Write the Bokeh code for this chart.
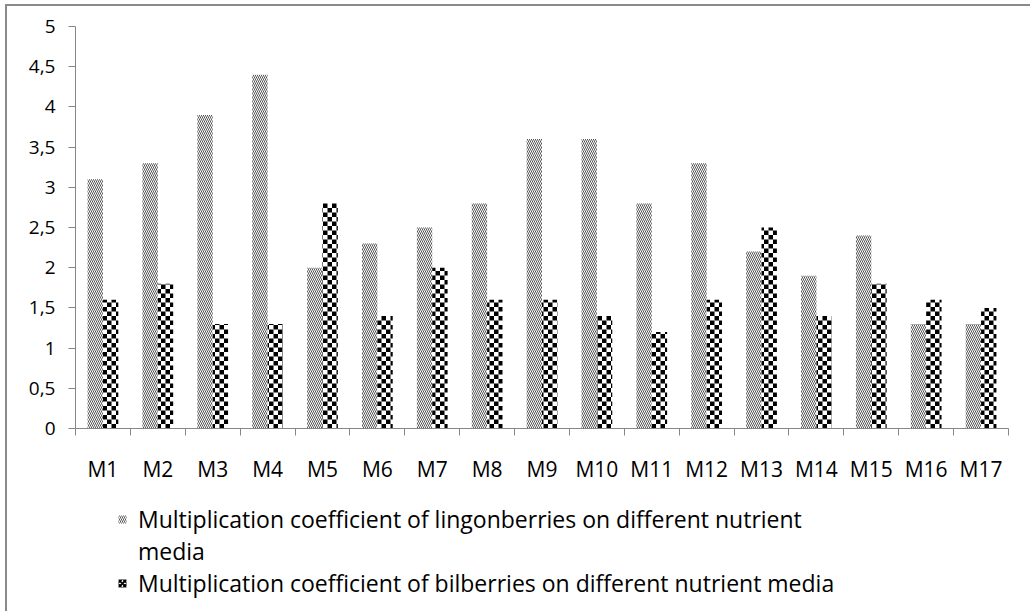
import math

from bokeh.plotting import figure
from bokeh.layouts import column
from bokeh.models import (ColumnDataSource, FixedTicker, CustomJSTickFormatter,
                          Legend, LegendItem)
from bokeh.transform import dodge
from bokeh.embed import file_html
from bokeh.resources import INLINE

# ---------------- data ----------------
categories = ["M1", "M2", "M3", "M4", "M5", "M6", "M7", "M8", "M9", "M10",
              "M11", "M12", "M13", "M14", "M15", "M16", "M17"]
lingonberries = [3.1, 3.3, 3.9, 4.4, 2.0, 2.3, 2.5, 2.8, 3.6, 3.6,
                 2.8, 3.3, 2.2, 1.9, 2.4, 1.3, 1.3]
bilberries = [1.6, 1.8, 1.3, 1.3, 2.8, 1.4, 2.0, 1.6, 1.6, 1.4,
              1.2, 1.6, 2.5, 1.4, 1.8, 1.6, 1.5]
y_ticks = [0, 0.5, 1, 1.5, 2, 2.5, 3, 3.5, 4, 4.5, 5]
legend_ling = ["Multiplication coefficient of lingonberries on different nutrient", "media"]
legend_bil = "Multiplication coefficient of bilberries on different nutrient media"

FONT = "Open Sans"
AXIS_GREY = "#868686"
LING_HATCH = dict(fill_color="white", line_color=None,
                  hatch_pattern="left_diagonal_line", hatch_color="#555555",
                  hatch_scale=4, hatch_weight=1)

# ---------------- geometry ----------------
FIG_W = 1023
FRAME_W, FRAME_H = 933, 402
X0, X1 = 0.5, len(categories) + 0.5
Y0, Y1 = 0, 5
bw = 0.28

idx = list(range(1, len(categories) + 1))
source = ColumnDataSource(data=dict(x=idx, ling=lingonberries, bil=bilberries))

# ---------------- chart ----------------
p = figure(width=FIG_W, height=479, x_range=(X0, X1), y_range=(Y0, Y1),
           output_backend="svg", toolbar_location=None,
           min_border_left=68, min_border_right=FIG_W - 68 - FRAME_W,
           min_border_top=20, min_border_bottom=57)
p.outline_line_color = None
p.xgrid.visible = False
p.ygrid.visible = False

# lingonberries: diagonal hatch
p.vbar(x=dodge("x", -bw / 2), top="ling", width=bw, source=source, **LING_HATCH)

# bilberries: white bar + checkerboard cells derived from each bar's value
p.vbar(x=dodge("x", bw / 2), top="bil", width=bw, source=source,
       fill_color="white", line_color=None)
cell_px = 4.5
cdx = cell_px * (X1 - X0) / FRAME_W
cdy = cell_px * (Y1 - Y0) / FRAME_H
cl, cr, cb, ct = [], [], [], []
for xi, v in zip(idx, bilberries):
    bx0, bx1 = xi, xi + bw
    k0 = math.floor((bx0 - X0) / cdx)
    k1 = math.ceil((bx1 - X0) / cdx)
    for j in range(math.ceil(v / cdy)):
        for k in range(k0, k1):
            if (j + k) % 2:
                continue
            l = max(bx0, X0 + k * cdx)
            r = min(bx1, X0 + (k + 1) * cdx)
            b = j * cdy
            t = min(v, (j + 1) * cdy)
            if r > l and t > b:
                cl.append(l); cr.append(r); cb.append(b); ct.append(t)
p.quad(left=cl, right=cr, bottom=cb, top=ct, fill_color="black", line_color=None)

# x axis: labels at centers, tick marks at category boundaries
xa = p.xaxis[0]
xa.ticker = FixedTicker(ticks=idx, minor_ticks=[i + 0.5 for i in range(0, len(categories) + 1)])
xa.formatter = CustomJSTickFormatter(args=dict(labels=categories),
                                     code="return labels[Math.round(tick) - 1];")
xa.major_tick_out = 0
xa.major_tick_in = 0
xa.minor_tick_out = 7
xa.minor_tick_in = 0
xa.minor_tick_line_color = AXIS_GREY
xa.axis_line_color = AXIS_GREY
xa.major_label_standoff = 19
xa.major_label_text_font = FONT
xa.major_label_text_font_size = "21px"
xa.major_label_text_color = "black"

ya = p.yaxis[0]
ya.ticker = FixedTicker(ticks=y_ticks)
ya.formatter = CustomJSTickFormatter(code="return tick.toString().replace('.', ',');")
ya.major_tick_out = 7
ya.major_tick_in = 0
ya.minor_tick_line_color = None
ya.major_tick_line_color = AXIS_GREY
ya.axis_line_color = AXIS_GREY
ya.major_label_standoff = 13
ya.major_label_text_font = FONT
ya.major_label_text_font_size = "19px"
ya.major_label_text_color = "black"

# ---------------- legend area ----------------
pl = figure(width=FIG_W, height=126, x_range=(0, 1), y_range=(0, 1),
            output_backend="svg", toolbar_location=None,
            x_axis_type=None, y_axis_type=None,
            min_border_left=68, min_border_right=FIG_W - 68 - FRAME_W,
            min_border_top=0, min_border_bottom=0)
pl.outline_line_color = None
pl.xgrid.visible = False
pl.ygrid.visible = False
# legend swatches (zero-height, outside the visible range: only their legend glyphs show)
g1 = pl.vbar(x=[-10], top=[0], width=0.1, **LING_HATCH)
g_blank = pl.vbar(x=[-10], top=[0], width=0.1, fill_alpha=0, line_alpha=0)
g2 = pl.vbar(x=[-10], top=[0], width=0.1, fill_color="white", line_color=None,
             hatch_pattern="diagonal_cross", hatch_color="black",
             hatch_scale=5, hatch_weight=2)

legend = Legend(items=[
    LegendItem(label=legend_ling[0], renderers=[g1]),
    LegendItem(label=legend_ling[1], renderers=[g_blank]),
    LegendItem(label=legend_bil, renderers=[g2]),
], location=(42, 12), orientation="vertical", padding=0, margin=0, spacing=0,
    label_height=32, glyph_height=10, glyph_width=10, label_standoff=11,
    border_line_alpha=0, background_fill_alpha=0,
    label_text_font=FONT, label_text_font_size="23px", label_text_color="black")
pl.add_layout(legend, "center")

layout = column(p, pl, spacing=0)
layout.styles = {"margin-left": "5px", "margin-top": "4px",
                 "border-left": "2px solid #8a8a8a", "border-top": "2px solid #8a8a8a"}

open("out.html", "w").write(file_html(layout, INLINE))
